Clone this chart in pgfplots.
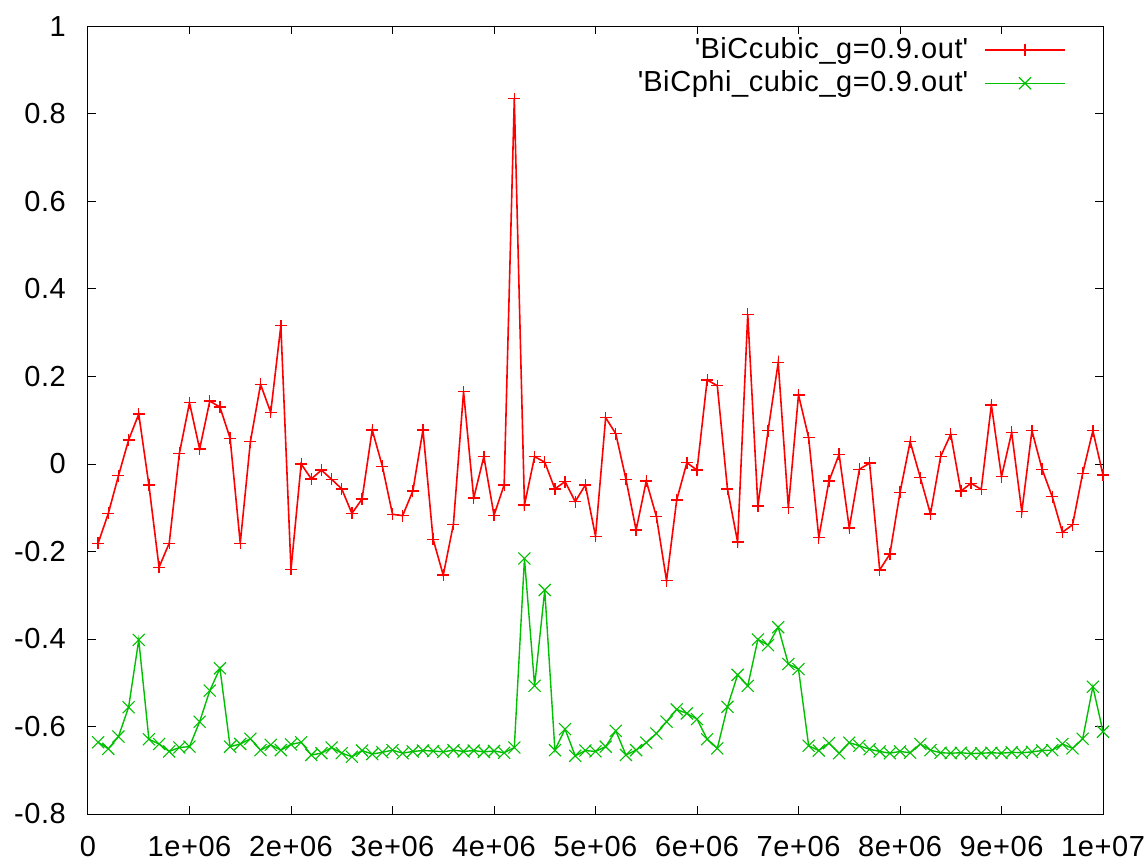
\documentclass[border=0pt]{standalone}
\usepackage{pgfplots}
\usepackage{pgfplotstable}
\pgfplotsset{compat=1.18}
\usepackage{fontspec}
\setmainfont{Liberation Sans}[LetterSpace=2]
\definecolor{gpred}{RGB}{255,0,0}
\definecolor{gpgreen}{RGB}{0,192,0}

% k = x / 1e5
\pgfplotstableread{
k   bic     bicphi
1   -0.181  -0.636
2   -0.113  -0.651
3   -0.027  -0.623
4   0.055   -0.556
5   0.114   -0.402
6   -0.048  -0.629
7   -0.236  -0.640
8   -0.181  -0.657
9   0.024   -0.648
10  0.140   -0.646
11  0.034   -0.589
12  0.144   -0.518
13  0.130   -0.467
14  0.059   -0.646
15  -0.181  -0.640
16  0.051   -0.628
17  0.182   -0.654
18  0.118   -0.642
19  0.316   -0.654
20  -0.241  -0.641
21  0.000   -0.636
22  -0.034  -0.665
23  -0.014  -0.661
24  -0.035  -0.648
25  -0.057  -0.661
26  -0.113  -0.669
27  -0.080  -0.655
28  0.078   -0.663
29  -0.005  -0.659
30  -0.115  -0.654
31  -0.118  -0.661
32  -0.062  -0.657
33  0.078   -0.655
34  -0.172  -0.656
35  -0.254  -0.658
36  -0.138  -0.654
37  0.165   -0.657
38  -0.078  -0.655
39  0.017   -0.658
40  -0.117  -0.656
41  -0.048  -0.660
42  0.835   -0.648
43  -0.094  -0.216
44  0.017   -0.507
45  0.004   -0.288
46  -0.057  -0.654
47  -0.040  -0.606
48  -0.086  -0.667
49  -0.048  -0.655
50  -0.165  -0.657
51  0.106   -0.646
52  0.069   -0.610
53  -0.035  -0.665
54  -0.151  -0.654
55  -0.039  -0.637
56  -0.120  -0.616
57  -0.267  -0.589
58  -0.082  -0.561
59  0.003   -0.570
60  -0.014  -0.583
61  0.192   -0.629
62  0.179   -0.650
63  -0.057  -0.555
64  -0.178  -0.482
65  0.342   -0.507
66  -0.096  -0.401
67  0.076   -0.414
68  0.232   -0.373
69  -0.100  -0.457
70  0.158   -0.469
71  0.060   -0.644
72  -0.168  -0.655
73  -0.039  -0.638
74  0.022   -0.661
75  -0.146  -0.637
76  -0.012  -0.644
77  0.002   -0.652
78  -0.242  -0.657
79  -0.206  -0.661
80  -0.065  -0.657
81  0.051   -0.660
82  -0.031  -0.640
83  -0.114  -0.654
84  0.017   -0.660
85  0.068   -0.661
86  -0.062  -0.660
87  -0.044  -0.662
88  -0.058  -0.661
89  0.135   -0.660
90  -0.029  -0.661
91  0.072   -0.659
92  -0.109  -0.660
93  0.076   -0.658
94  -0.012  -0.655
95  -0.075  -0.654
96  -0.156  -0.640
97  -0.139  -0.650
98  -0.021  -0.628
99  0.076   -0.509
100 -0.025  -0.612
}\datatable

\begin{document}
\fontsize{29}{34}\selectfont
\begin{tikzpicture}
\path (-88pt,-49pt) rectangle (1060pt,814pt);
\begin{axis}[
    at={(0,0)}, anchor=south west,
    scale only axis, width=1015pt, height=787.5pt,
    xmin=0, xmax=100, ymin=-0.8, ymax=1,
    xtick={0,10,20,30,40,50,60,70,80,90,100},
    xticklabels={0,1e+06,2e+06,3e+06,4e+06,5e+06,6e+06,7e+06,8e+06,9e+06,1e+07},
    ytick={-0.8,-0.6,-0.4,-0.2,0,0.2,0.4,0.6,0.8,1},
    yticklabels={-0.8,-0.6,-0.4,-0.2,0,0.2,0.4,0.6,0.8,1},
    scaled ticks=false,
    tick align=inside, major tick length=8pt,
    axis line style={line width=1pt, draw=black},
    every tick/.style={draw=black, line width=1pt},
    yticklabel style={inner sep=0pt, xshift=-22pt},
    xticklabel style={inner sep=0pt, yshift=-22pt},
    legend style={draw=none, fill=none, at={(rel axis cs:1,1)}, anchor=north east,
        xshift=-34pt, yshift=-6.5pt, row sep=4pt,
        nodes={inner sep=2pt},
        /tikz/every odd column/.append style={column sep=14pt}},
    legend cell align=right,
    legend plot pos=right,
    legend image code/.code={\draw[mark repeat=2,mark phase=2,#1]
        plot coordinates {(0pt,0pt) (40pt,0pt) (80pt,0pt)};},
]
\addplot[draw=gpred, line width=1.6pt, mark=+, mark size=6pt,
    mark options={draw=gpred, solid, line width=1.3pt}] table[x=k, y=bic] {\datatable};
\addlegendentry{\textquotesingle BiCcubic\_g=0.9.out\textquotesingle}
\addplot[draw=gpgreen, line width=1.4pt, mark=x, mark size=8.5pt,
    mark options={draw=gpgreen, solid, line width=1.1pt}] table[x=k, y=bicphi] {\datatable};
\addlegendentry{\textquotesingle BiCphi\_cubic\_g=0.9.out\textquotesingle}
\end{axis}
\end{tikzpicture}
\end{document}
